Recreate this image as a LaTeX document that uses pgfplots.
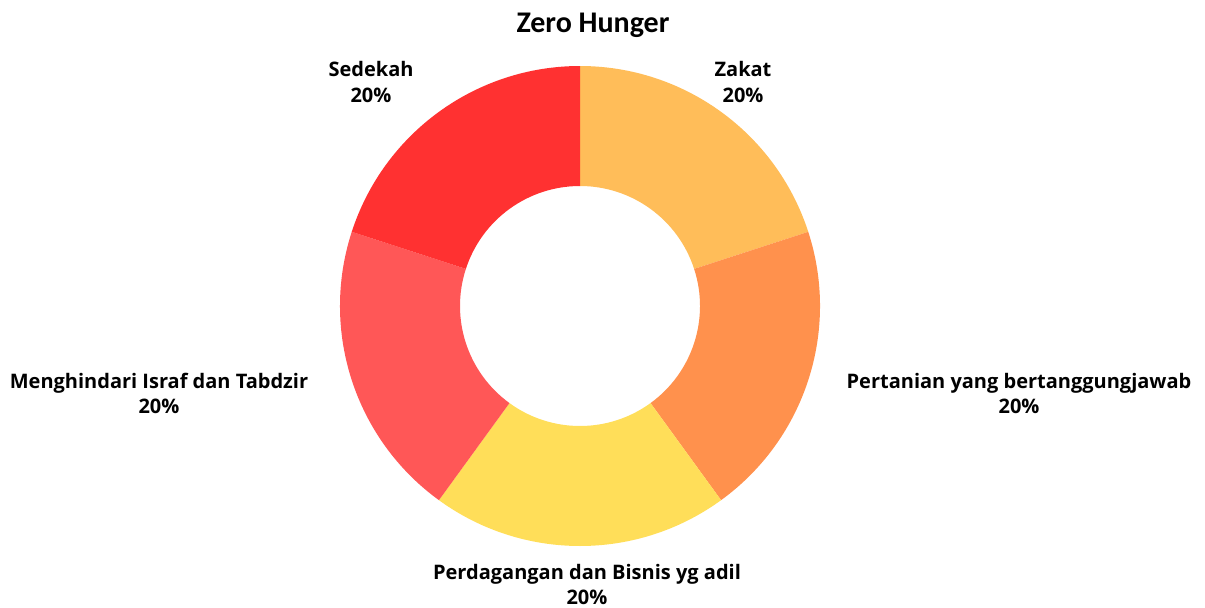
\documentclass[border=0pt]{standalone}
\usepackage{fontspec}
\usepackage{pgfplots}
\usepackage{pgfplotstable}
\pgfplotsset{compat=1.18}
\setmainfont{Open Sans}
\newfontfamily\titlefont{Carlito}
\definecolor{cZakat}{HTML}{FFBD59}
\definecolor{cPertanian}{HTML}{FF914D}
\definecolor{cPerdagangan}{HTML}{FFDE59}
\definecolor{cMenghindari}{HTML}{FF5757}
\definecolor{cSedekah}{HTML}{FF3131}

% slice values (percent), clockwise from the top
\pgfplotstableread{
idx value
0 20
1 20
2 20
3 20
4 20
}\donutdata

\newcommand\getval[2]{\pgfplotstablegetelem{#1}{value}\of\donutdata\global\let#2\pgfplotsretval}
\getval{0}\vA \getval{1}\vB \getval{2}\vC \getval{3}\vD \getval{4}\vE
\pgfmathsetmacro\total{\vA+\vB+\vC+\vD+\vE}
\pgfmathsetmacro\aA{90}
\pgfmathsetmacro\aB{\aA-360*\vA/\total}
\pgfmathsetmacro\aC{\aB-360*\vB/\total}
\pgfmathsetmacro\aD{\aC-360*\vC/\total}
\pgfmathsetmacro\aE{\aD-360*\vD/\total}
\pgfmathsetmacro\aF{\aE-360*\vE/\total}

\newcommand\slice[3]{% start, end, colour
  \fill[#3] ([shift={(#1:120pt)}]axis cs:580,301)
    arc[start angle=#1, end angle=#2, radius=120pt]
    -- ([shift={(#2:60pt)}]axis cs:580,301)
    arc[start angle=#2, end angle=#1, radius=60pt] -- cycle;}
\newcommand\pct[1]{\pgfmathprintnumber[assume math mode=true]{#1}\%}

\begin{document}
\begin{tikzpicture}
\path[use as bounding box] (0,0) rectangle (602.5pt,303.5pt);
\begin{axis}[
  at={(0,0)}, anchor=origin,
  x=0.5pt, y=0.5pt,
  xmin=0, xmax=1205, ymin=0, ymax=607,
  hide axis, clip=false,
]
\addplot[draw=none] coordinates {(0,0) (1205,607)};
\slice{\aA}{\aB}{cZakat}
\slice{\aB}{\aC}{cPertanian}
\slice{\aC}{\aD}{cPerdagangan}
\slice{\aD}{\aE}{cMenghindari}
\slice{\aE}{\aF}{cSedekah}
\node[font=\titlefont\bfseries\fontsize{15}{18}\selectfont] at (axis cs:593,582) {Zero Hunger};
\tikzset{lab/.style={font=\bfseries\fontsize{10}{12.5}\selectfont, align=center}}
\node[lab] at (axis cs:743,525) {Zakat\\\pct{\vA}};
\node[lab] at (axis cs:1019,213.5) {Pertanian yang bertanggungjawab\\\pct{\vB}};
\node[lab] at (axis cs:587,23) {Perdagangan dan Bisnis yg adil\\\pct{\vC}};
\node[lab] at (axis cs:159,213.5) {Menghindari Israf dan Tabdzir\\\pct{\vD}};
\node[lab] at (axis cs:371,525) {Sedekah\\\pct{\vE}};
\end{axis}
\end{tikzpicture}
\end{document}
